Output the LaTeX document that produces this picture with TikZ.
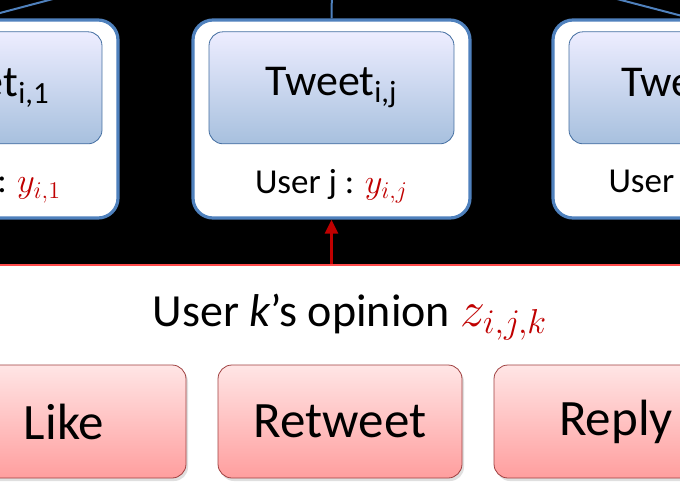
\documentclass[tikz,border=0pt]{standalone}
\usepackage{fontspec}
\setmainfont{Carlito}
\usepackage{xcolor}
\usepackage{tikz}
\usetikzlibrary{positioning,shadows,arrows.meta}
\definecolor{officeblue}{RGB}{79,129,189}
\definecolor{opinionred}{RGB}{192,0,0}

\begin{document}
\begin{tikzpicture}[x=0.5pt,y=0.5pt,semithick]
  \tikzstyle{userbox}=[draw=officeblue,line width=1.6pt,fill=white,rounded corners=10pt,minimum width=138.5pt,minimum height=99pt]
  \tikzstyle{tweetbox}=[draw=officeblue!85!black,thin,rounded corners=7pt,top color=blue!7,bottom color=officeblue!50,minimum width=122.5pt,minimum height=56pt,font=\fontsize{22}{26}\selectfont]
  \tikzstyle{usertext}=[font=\fontsize{17.5}{21}\selectfont]
  \tikzstyle{action}=[draw=red!50!black!75,thin,rounded corners=7pt,top color=red!10,bottom color=red!38,minimum width=122pt,minimum height=56.5pt,font=\fontsize{25.5}{30}\selectfont,drop shadow={opacity=0.25,shadow xshift=1pt,shadow yshift=-1.5pt}]

  \useasboundingbox (0,0) rectangle (680,500);
  \clip (0,0) rectangle (680,500);
  \fill[black] (0,235) rectangle (680,500);

  % tweets of the users
  \node[userbox] (USERJ) at (331.5,381) {};
  \node[userbox,left of=USERJ,node distance=176pt] (USER1) {};
  \node[userbox,right of=USERJ,node distance=180pt] (USERN) {};
  \node[tweetbox,below=6.5pt of USERJ.north] (TWEETJ) {Tweet\textsubscript{i,j}};
  \node[tweetbox,below=6.5pt of USER1.north] (TWEET1) {Tweet\textsubscript{i,1}};
  \node[tweetbox,below=6.5pt of USERN.north] (TWEETN) {Tweet\textsubscript{i,n}};
  \node[usertext] (LABELJ) at ([yshift=16.5pt]USERJ.south) {User j : \textcolor{opinionred}{$y_{i,j}$}};
  \node[usertext] (LABEL1) at ([yshift=16.5pt]USER1.south) {User 1 : \textcolor{opinionred}{$y_{i,1}$}};
  \node[usertext] (LABELN) at ([yshift=16.5pt]USERN.south) {User n : \textcolor{opinionred}{$y_{i,n}$}};

  \coordinate (ROOT) at (333,575);
  \draw[officeblue,line width=1pt] (USER1.north) -- (ROOT);
  \draw[officeblue,line width=1pt] (USERJ.north) -- (ROOT);
  \draw[officeblue,line width=1pt] (USERN.north) -- (ROOT);

  % opinion of user k
  \node[draw=red!70,line width=1pt,fill=white,minimum width=360pt,minimum height=130pt,anchor=north] (PANEL) at (340,236) {};
  \node[font=\fontsize{23}{27}\selectfont] (OPINION) at (350,183) {User \textit{k}’s opinion \textcolor{opinionred}{$z_{i,j,k}$}};
  \draw[-{Triangle[length=7pt,width=6.5pt]},opinionred,line width=1.3pt] (USERJ.south |- PANEL.north) -- (USERJ.south);

  \node[action] (RETWEET) at (340,78.5) {Retweet};
  \node[action,left of=RETWEET,node distance=138pt] (LIKE) {Like};
  \node[action,right of=RETWEET,node distance=138pt] (REPLY) {Reply};
\end{tikzpicture}
\end{document}
